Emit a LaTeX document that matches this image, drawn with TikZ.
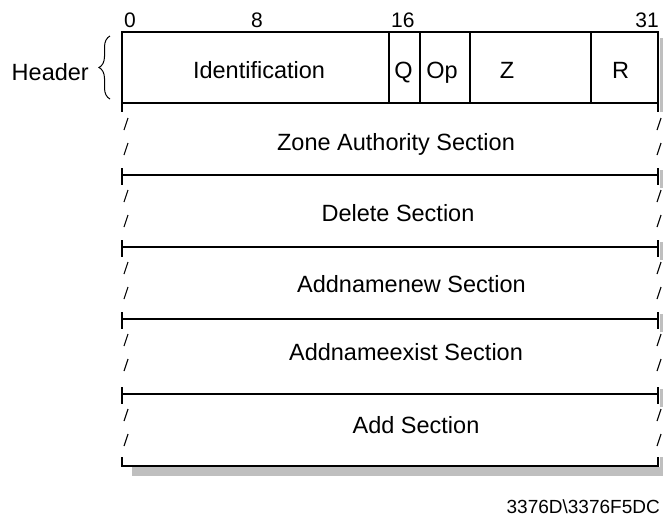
\documentclass[tikz,border=0pt]{standalone}
\usepackage{fontspec}
\setmainfont{Liberation Sans}
\usetikzlibrary{positioning, calc, decorations.pathreplacing}

\begin{document}
\begin{tikzpicture}[x=1pt, y=-1pt,
  lbl/.style={font=\fontsize{23.5}{27}\selectfont, inner sep=0pt, anchor=base},
  bitlbl/.style={font=\fontsize{21}{24}\selectfont, inner sep=0pt},
  footlbl/.style={font=\fontsize{19}{22}\selectfont, inner sep=0pt},
  frameline/.style={line width=1.8pt},
  slashline/.style={line width=1.1pt},
  shadowfill/.style={fill=black!25, draw=none}]
\useasboundingbox (0,0) rectangle (664,517);

% shadow
\fill[shadowfill] (132,467) rectangle (663,476);
\fill[shadowfill] (659.5,38) rectangle (663,112);
\foreach \y in {175,247,319,394} {
  \fill[shadowfill] (659.5,\y-5) rectangle (663,\y+13);
}
\fill[shadowfill] (659.5,457) rectangle (663,467);

% header
\draw[frameline] (122,32) rectangle (658,103);
\foreach \x in {389,420,470,591} {
  \draw[frameline] (\x,32) -- (\x,103);
}
\draw[frameline] (122,103) -- (122,112);
\draw[frameline] (658,103) -- (658,112);

\node[bitlbl, anchor=base west] (b0) at (124,27) {0};
\node[bitlbl, anchor=base] (b8) at (257,27) {8};
\node[bitlbl, anchor=base west] (b16) at (391,27) {16};
\node[bitlbl, anchor=base east] (b31) at (659,27) {31};

\node[lbl] (idf) at (259,78) {Identification};
\node[lbl] (q) at (403.5,78) {Q};
\node[lbl] (op) at (442,78) {Op};
\node[lbl] (z) at (507,78) {Z};
\node[lbl] (r) at (620.5,78) {R};

\node[lbl, anchor=base east] (hdr) at (89,80) {Header};
\draw[line width=1pt, decorate,
  decoration={brace, amplitude=11pt}] (110,99) -- (110,36);

% sections
\foreach \y in {175,247,319,394} {
  \draw[frameline] (122,\y) -- (658,\y);
  \draw[frameline] (122,\y-7) -- (122,\y+10);
  \draw[frameline] (658,\y-7) -- (658,\y+10);
}
\draw[frameline] (122,457) -- (122,466) -- (658,466) -- (658,457);

\foreach \s in {103,175,247,319,394} {
  \draw[slashline] (124,\s+27) -- (128,\s+15);
  \draw[slashline] (124,\s+52) -- (128,\s+40);
  \draw[slashline] (657,\s+27) -- (661,\s+15);
  \draw[slashline] (657,\s+52) -- (661,\s+40);
}

\node[lbl] (zas) at (396,150) {Zone Authority Section};
\node[lbl] (del) at (398,221) {Delete Section};
\node[lbl] (anew) at (411.5,292) {Addnamenew Section};
\node[lbl] (aexist) at (406,360) {Addnameexist Section};
\node[lbl] (add) at (416,433) {Add Section};

\node[footlbl, anchor=base east] (fig) at (660,513) {3376D\textbackslash 3376F5DC};
\end{tikzpicture}
\end{document}
